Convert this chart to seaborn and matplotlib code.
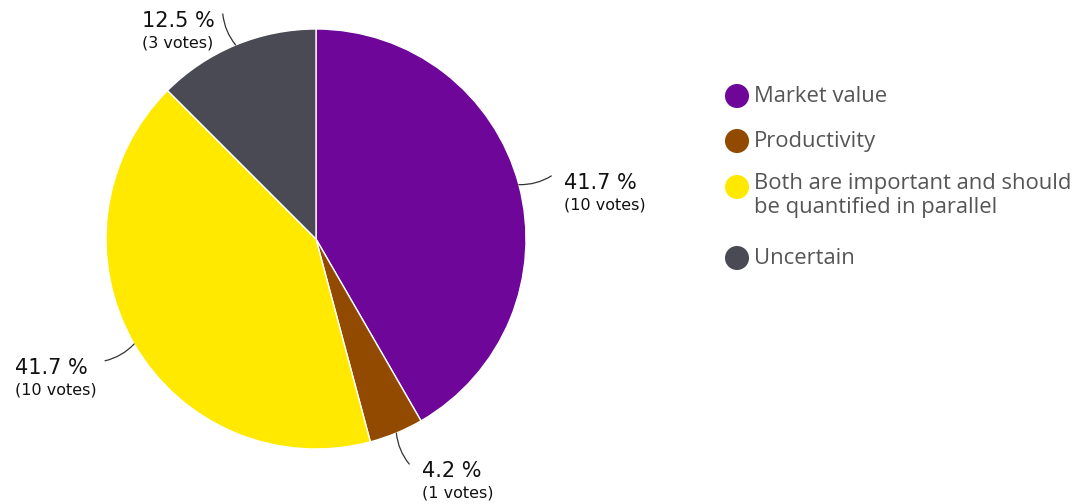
import numpy as np
import matplotlib
matplotlib.use("Agg")
import matplotlib.pyplot as plt
import seaborn as sns
from matplotlib.offsetbox import TextArea, VPacker, AnnotationBbox

sns.set_theme(style="white")
plt.rcParams['font.family'] = ['DejaVu Sans']

categories = ["Market value", "Productivity",
              "Both are important and should\nbe quantified in parallel", "Uncertain"]
votes = [10, 1, 10, 3]
colors = ["#6E0699", "#914A00", "#FFE900", "#4A4A54"]

W, H = 1080, 504
fig = plt.figure(figsize=(W / 100, H / 100), dpi=100)
fig.patch.set_facecolor("white")

# pie axes: center (316,239), radius 210 px
cx, cy, R = 316, 239, 210
ax = fig.add_axes([(cx - R) / W, (H - cy - R) / H, 2 * R / W, 2 * R / H])
ax.axis("off")

wedges, _ = ax.pie(votes, colors=colors, startangle=90, counterclock=False,
                   radius=1, wedgeprops=dict(edgecolor="white", linewidth=1))
ax.set_xlim(-1, 1)
ax.set_ylim(-1, 1)
ax.set_aspect("equal")

total = sum(votes)
cum = 0
for v, w in zip(votes, wedges):
    mid = (cum + v / 2) / total * 2 * np.pi  # clockwise from top
    cum += v
    sx, sy = np.sin(mid), np.cos(mid)
    ex, ey = 1.16 * sx, 1.16 * sy
    right = sx >= 0
    rad = -0.15 if right else 0.15
    ax.annotate("", xy=(sx, sy), xytext=(ex, ey),
                arrowprops=dict(arrowstyle="-", color="#333333", lw=0.9,
                                connectionstyle=f"arc3,rad={rad}",
                                shrinkA=0, shrinkB=0),
                annotation_clip=False)
    pct = f"{100 * v / total:.1f} %"
    t1 = TextArea(pct, textprops=dict(fontsize=15, color="#111111"))
    t2 = TextArea(f"({v} votes)", textprops=dict(fontsize=11.5, color="#111111"))
    box = VPacker(children=[t1, t2], align="left", pad=0, sep=3)
    ab = AnnotationBbox(box, (ex, ey), xybox=(9 if right else -6, -12),
                        xycoords="data", boxcoords="offset points",
                        box_alignment=(0 if right else 1, 0.5),
                        frameon=False, pad=0, annotation_clip=False)
    ax.add_artist(ab)

# legend in pixel coordinates
lax = fig.add_axes([0, 0, 1, 1])
lax.set_xlim(0, W)
lax.set_ylim(H, 0)
lax.axis("off")
legend_y = [96, 141, 187, 258]
for lab, c, y in zip(categories, colors, legend_y):
    lax.scatter([737], [y], s=300, color=c, edgecolor="none")
    if "\n" in lab:
        lax.text(754, y - 13.5, lab, fontsize=15.8, color="#555555", va="top",
                 family=["Open Sans", "DejaVu Sans"], linespacing=1.15)
    else:
        lax.text(754, y, lab, fontsize=15.8, color="#555555", va="center",
                 family=["Open Sans", "DejaVu Sans"])

fig.savefig("out.png", dpi=100, facecolor="white")
